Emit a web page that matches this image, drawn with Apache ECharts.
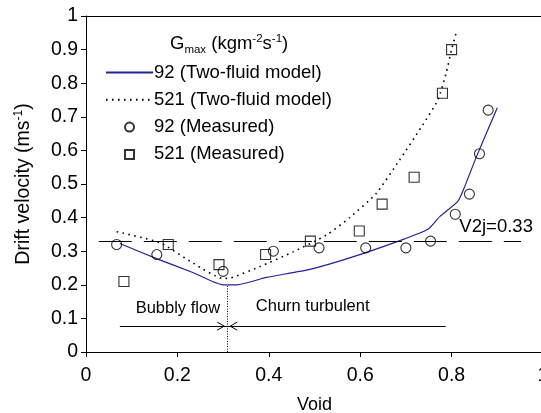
<!DOCTYPE html>
<html><head><meta charset="utf-8">
<script src="https://cdn.jsdelivr.net/npm/echarts@6/dist/echarts.min.js"></script>
<style>html,body{margin:0;padding:0;background:#fff}#c{width:541px;height:413px}</style>
</head><body><div id="c"></div>
<script>
// ---- data ----
const xTicks = [0, 0.2, 0.4, 0.6, 0.8, 1];
const yTicks = [0, 0.1, 0.2, 0.3, 0.4, 0.5, 0.6, 0.7, 0.8, 0.9, 1];
const model92 = [[0.074,0.323],[0.16,0.275],[0.235,0.236],[0.3,0.2],[0.33,0.2],[0.395,0.222],[0.49,0.246],[0.577,0.28],[0.69,0.333],[0.748,0.365],[0.774,0.403],[0.814,0.449],[0.828,0.49],[0.854,0.58],[0.9,0.727]];
const model521 = [[0.067,0.358],[0.162,0.325],[0.235,0.264],[0.3,0.219],[0.315,0.22],[0.38,0.254],[0.453,0.298],[0.526,0.348],[0.577,0.4],[0.635,0.472],[0.686,0.571],[0.734,0.67],[0.77,0.75],[0.788,0.83],[0.8,0.9],[0.81,0.95]];
const measured92 = [[0.067,0.32],[0.155,0.29],[0.30,0.24],[0.41,0.30],[0.51,0.31],[0.612,0.31],[0.70,0.31],[0.754,0.33],[0.808,0.41],[0.839,0.47],[0.861,0.59],[0.88,0.72]];
const measured521 = [[0.083,0.21],[0.18,0.32],[0.291,0.26],[0.393,0.29],[0.491,0.33],[0.598,0.36],[0.648,0.44],[0.718,0.52],[0.78,0.77],[0.80,0.90]];
const v2j = 0.33;
const v2jRange = [0.028, 0.952];
const transitionVoid = 0.309;
const transitionTop = 0.2;
const arrowY = 0.077;
const bubblyRange = [0.074, 0.309];
const churnRange = [0.309, 0.787];
const bubblyLabel = {x: 0.201, y: 0.131, text: 'Bubbly flow'};
const churnLabel = {x: 0.496, y: 0.135, text: 'Churn turbulent'};
const v2jLabel = {x: 0.817, y: 0.372, text: 'V2j=0.33'};
const names = ['92 (Two-fluid model)', '521 (Two-fluid model)', '92 (Measured)', '521 (Measured)'];

const FONT = '"Liberation Sans", Arial, Helvetica, sans-serif';
const chart = echarts.init(document.getElementById('c'));

const option = {
  animation: false,
  backgroundColor: '#fff',
  textStyle: {fontFamily: FONT},
  grid: {left: 86, width: 457, top: 16, height: 336, containLabel: false, outerBoundsMode: 'none'},
  legend: {
    data: [
      {name: names[0], itemStyle: {opacity: 0}},
      {name: names[1], itemStyle: {opacity: 0}},
      {name: names[2], icon: 'circle'},
      {name: names[3], icon: 'path://M0,0H10V10H0Z'}
    ],
    orient: 'vertical',
    left: 105, top: 63, padding: 0,
    itemWidth: 47, itemHeight: 9, itemGap: 8.3,
    symbolKeepAspect: true,
    textStyle: {fontFamily: FONT, fontSize: 18.5, color: '#000', padding: [0,0,0,-4]},
    selectedMode: false
  },
  xAxis: [{
    type: 'value', min: 0, max: 1, interval: 0.2,
    name: 'Void', nameLocation: 'middle', nameGap: 44,
    nameTextStyle: {fontFamily: FONT, fontSize: 18, color: '#000'},
    axisLine: {lineStyle: {color: '#000', width: 1}},
    axisTick: {length: 5, lineStyle: {color: '#000'}},
    axisLabel: {fontFamily: FONT, fontSize: 19.5, color: '#000', margin: 14,
      formatter: v => xTicks.includes(+v.toFixed(1)) ? String(+v.toFixed(1)) : ''},
    splitLine: {show: false}
  }, {
    type: 'value', min: 0, max: 1, position: 'top',
    axisLine: {show: true, onZero: false, lineStyle: {color: '#000', width: 1}},
    axisTick: {show: false}, axisLabel: {show: false}, splitLine: {show: false}
  }],
  yAxis: {
    type: 'value', min: 0, max: 1, interval: 0.1,
    axisLine: {show: true, lineStyle: {color: '#000', width: 1}},
    axisTick: {show: true, length: 5, lineStyle: {color: '#000'}},
    axisLabel: {fontFamily: FONT, fontSize: 19.5, color: '#000', margin: 8,
      formatter: v => yTicks.includes(+v.toFixed(1)) ? String(+v.toFixed(1)) : ''},
    splitLine: {show: false}
  },
  series: [
    {
      name: names[0], type: 'line', data: model92, smooth: 0.2, symbol: 'none',
      lineStyle: {color: '#22229a', width: 1.2}, itemStyle: {color: '#22229a'}, z: 3,
      markLine: {
        silent: true, symbol: ['none','none'], label: {show: false},
        data: [
          [{coord: [v2jRange[0], v2j], lineStyle: {color: '#000', width: 1.1, type: [33, 12]}},
           {coord: [v2jRange[1], v2j]}],
          [{coord: [transitionVoid, 0], lineStyle: {color: '#000', width: 1, type: [1, 1.5]}},
           {coord: [transitionVoid, transitionTop]}],
          [{coord: [bubblyRange[0], arrowY], lineStyle: {color: '#000', width: 1, type: 'solid'}},
           {coord: [bubblyRange[1], arrowY]}],
          [{coord: [churnRange[0], arrowY], lineStyle: {color: '#000', width: 1, type: 'solid'}},
           {coord: [churnRange[1], arrowY]}]
        ]
      }
    },
    {
      name: names[1], type: 'line', data: model521, smooth: 0.2, symbol: 'none',
      lineStyle: {color: '#000', width: 1.6, type: [1.6, 4.4]}, itemStyle: {color: '#000'}, z: 3
    },
    {
      name: names[2], type: 'scatter', data: measured92, symbol: 'circle', symbolSize: 10,
      itemStyle: {color: 'rgba(255,255,255,0)', borderColor: '#000', borderWidth: 1.1}, z: 4
    },
    {
      name: names[3], type: 'scatter', data: measured521, symbol: 'rect', symbolSize: 10,
      itemStyle: {color: 'rgba(255,255,255,0)', borderColor: '#000', borderWidth: 1.1}, z: 4
    }
  ]
};
chart.setOption(option);

function px(p) { return chart.convertToPixel({xAxisIndex: 0, yAxisIndex: 0}, p); }
const gr = [];
function addText(lbl, align, size) {
  const p = px([lbl.x, lbl.y]);
  gr.push({type: 'text', x: p[0], y: p[1], z: 10,
    style: {text: lbl.text, fontFamily: FONT, fontSize: size, fill: '#000', align: align, verticalAlign: 'middle'}});
}
addText(bubblyLabel, 'center', 16.5);
addText(churnLabel, 'center', 16.5);
addText(v2jLabel, 'left', 18.5);
// arrowheads
const pB = px([bubblyRange[1], arrowY]);
gr.push({type: 'polyline', z: 10, shape: {points: [[pB[0]-10, pB[1]-4], [pB[0]-3, pB[1]], [pB[0]-10, pB[1]+4]]},
  style: {stroke: '#000', lineWidth: 1, fill: null}});
const pC = px([churnRange[0], arrowY]);
gr.push({type: 'polyline', z: 10, shape: {points: [[pC[0]+10, pC[1]-4], [pC[0]+3, pC[1]], [pC[0]+10, pC[1]+4]]},
  style: {stroke: '#000', lineWidth: 1, fill: null}});
// legend title
gr.push({type: 'text', left: 170, top: 32, z: 10,
  style: {text: '{n|G}{sub|max}{n| (kgm}{sup|-2}{n|s}{sup|-1}{n|)}',
    rich: {
      n: {fontFamily: FONT, fontSize: 18.5, fill: '#000', lineHeight: 24},
      sub: {fontFamily: FONT, fontSize: 11.5, fill: '#000', lineHeight: 24, padding: [12, 0, 0, 0]},
      sup: {fontFamily: FONT, fontSize: 11.5, fill: '#000', lineHeight: 24, padding: [0, 0, 10, 0]}
    }}});
// y axis name
gr.push({type: 'text', x: 24, y: 184, rotation: Math.PI / 2, z: 10,
  style: {text: '{n|Drift velocity (ms}{sup|-1}{n|)}', align: 'center', verticalAlign: 'middle',
    rich: {
      n: {fontFamily: FONT, fontSize: 19.5, fill: '#000', lineHeight: 24},
      sup: {fontFamily: FONT, fontSize: 12, fill: '#000', lineHeight: 24, padding: [0, 0, 10, 0]}
    }}});
chart.setOption({graphic: gr});
</script>
</body></html>
